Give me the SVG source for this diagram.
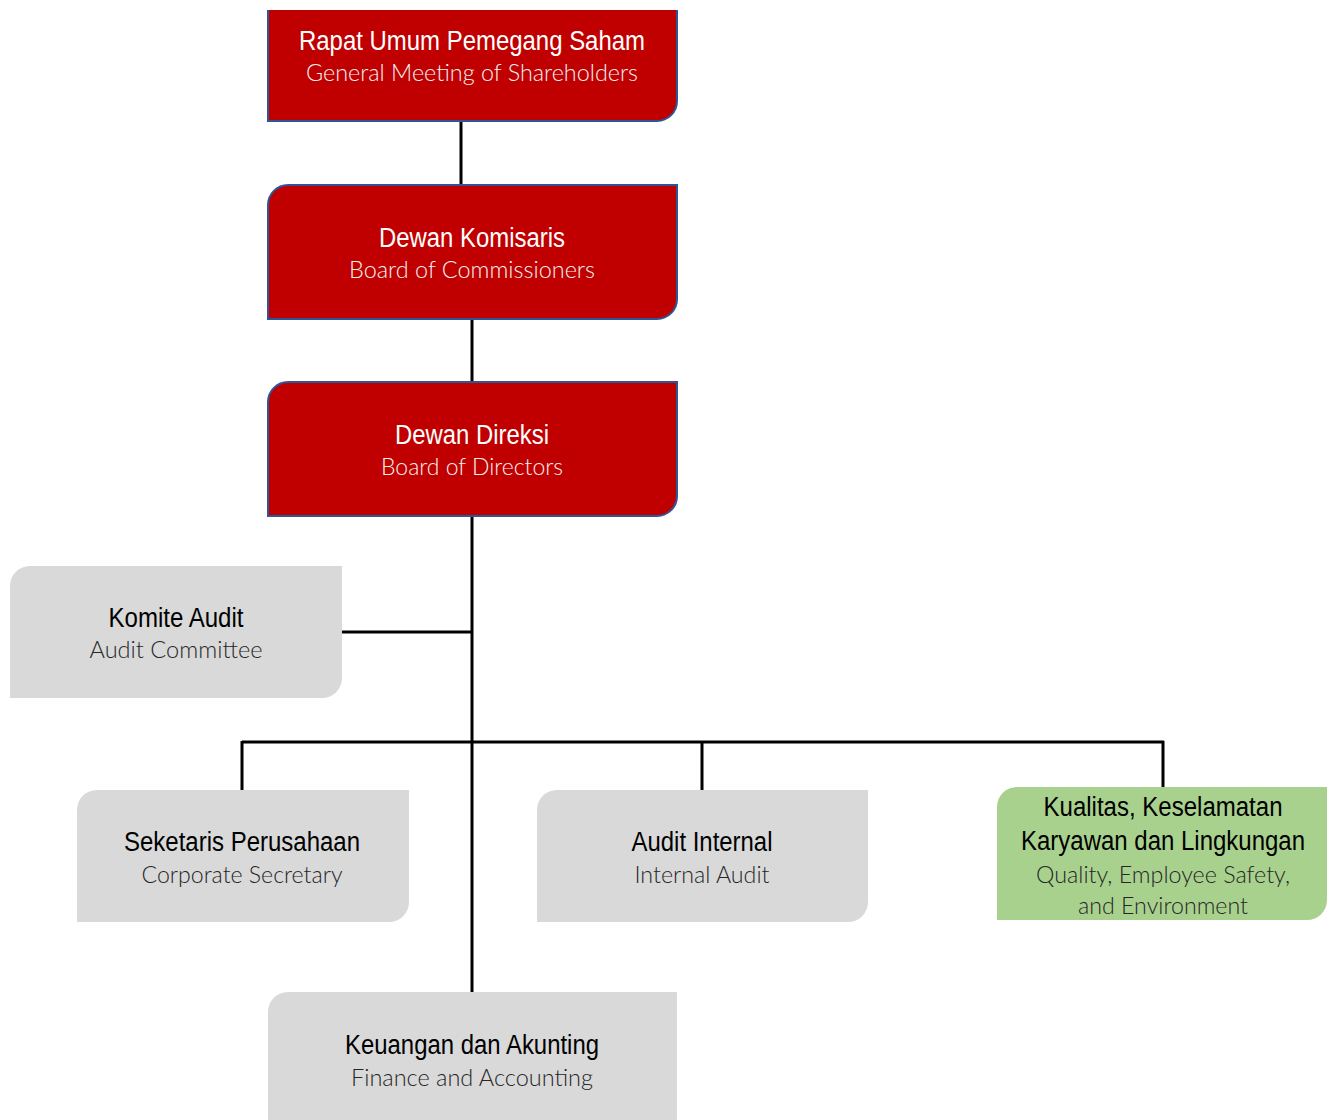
<svg xmlns="http://www.w3.org/2000/svg" width="1327" height="1120" viewBox="0 0 1327 1120">
<defs>
<style>
.red{fill:#C00000;stroke:#2F5597;stroke-width:2}
.gray{fill:#D9D9D9}
.green{fill:#A9D18E}
.t1{font-family:"Liberation Sans Narrow","Liberation Sans",Arial,sans-serif;font-size:27px;text-anchor:middle}
.t2{font-family:"Lato","Open Sans",sans-serif;font-weight:300;font-size:24px;text-anchor:middle}
.w1{fill:#FFFFFF}
.w2{fill:#F2F2F2}
.b1{fill:#000000}
.b2{fill:#262626}
.conn{stroke:#000;stroke-width:3;fill:none}
</style>
<clipPath id="topclip"><rect x="0" y="10" width="1327" height="1110"/></clipPath>
</defs>
<g id="connectors">
<line class="conn" x1="461" y1="121" x2="461" y2="185"/>
<line class="conn" x1="472" y1="319" x2="472" y2="382"/>
<line class="conn" x1="472" y1="516" x2="472" y2="993"/>
<line class="conn" x1="342" y1="632" x2="472" y2="632"/>
<line class="conn" x1="242" y1="742" x2="1164" y2="742"/>
<line class="conn" x1="242" y1="741" x2="242" y2="793"/>
<line class="conn" x1="702" y1="741" x2="702" y2="790"/>
<line class="conn" x1="1163" y1="741" x2="1163" y2="788"/>
</g>
<g id="rups">
<path class="red" clip-path="url(#topclip)" d="M268,-20 H677 V101 A20,20 0 0 1 657,121 H268 Z"/>
<text class="t1 w1" x="472" y="50" textLength="346" lengthAdjust="spacingAndGlyphs">Rapat Umum Pemegang Saham</text>
<text class="t2 w2" x="472" y="81" textLength="332" lengthAdjust="spacingAndGlyphs">General Meeting of Shareholders</text>
</g>
<g id="komisaris">
<path class="red" d="M288,185 H677 V299 A20,20 0 0 1 657,319 H268 V205 A20,20 0 0 1 288,185 Z"/>
<text class="t1 w1" x="472" y="247" textLength="186" lengthAdjust="spacingAndGlyphs">Dewan Komisaris</text>
<text class="t2 w2" x="472" y="278" textLength="246" lengthAdjust="spacingAndGlyphs">Board of Commissioners</text>
</g>
<g id="direksi">
<path class="red" d="M288,382 H677 V496 A20,20 0 0 1 657,516 H268 V402 A20,20 0 0 1 288,382 Z"/>
<text class="t1 w1" x="472" y="444" textLength="154" lengthAdjust="spacingAndGlyphs">Dewan Direksi</text>
<text class="t2 w2" x="472" y="475" textLength="182" lengthAdjust="spacingAndGlyphs">Board of Directors</text>
</g>
<g id="komite-audit">
<path class="gray" d="M30,566 H342 V678 A20,20 0 0 1 322,698 H10 V586 A20,20 0 0 1 30,566 Z"/>
<text class="t1 b1" x="176" y="627" textLength="135" lengthAdjust="spacingAndGlyphs">Komite Audit</text>
<text class="t2 b2" x="176" y="658" textLength="173" lengthAdjust="spacingAndGlyphs">Audit Committee</text>
</g>
<g id="sekretaris">
<path class="gray" d="M97,790 H409 V902 A20,20 0 0 1 389,922 H77 V810 A20,20 0 0 1 97,790 Z"/>
<text class="t1 b1" x="242" y="851" textLength="236" lengthAdjust="spacingAndGlyphs">Seketaris Perusahaan</text>
<text class="t2 b2" x="242" y="883" textLength="201" lengthAdjust="spacingAndGlyphs">Corporate Secretary</text>
</g>
<g id="audit-internal">
<path class="gray" d="M557,790 H868 V902 A20,20 0 0 1 848,922 H537 V810 A20,20 0 0 1 557,790 Z"/>
<text class="t1 b1" x="702" y="851" textLength="141" lengthAdjust="spacingAndGlyphs">Audit Internal</text>
<text class="t2 b2" x="702" y="883" textLength="135" lengthAdjust="spacingAndGlyphs">Internal Audit</text>
</g>
<g id="qhse">
<path class="green" d="M1017,787 H1327 V900 A20,20 0 0 1 1307,920 H997 V807 A20,20 0 0 1 1017,787 Z"/>
<text class="t1 b1" x="1163" y="816" textLength="239" lengthAdjust="spacingAndGlyphs">Kualitas, Keselamatan</text>
<text class="t1 b1" x="1163" y="850" textLength="284" lengthAdjust="spacingAndGlyphs">Karyawan dan Lingkungan</text>
<text class="t2 b2" x="1163" y="883" textLength="254" lengthAdjust="spacingAndGlyphs">Quality, Employee Safety,</text>
<text class="t2 b2" x="1163" y="914" textLength="170" lengthAdjust="spacingAndGlyphs">and Environment</text>
</g>
<g id="keuangan">
<path class="gray" d="M288,992 H677 V1130 A20,20 0 0 1 657,1150 H268 V1012 A20,20 0 0 1 288,992 Z"/>
<text class="t1 b1" x="472" y="1054" textLength="254" lengthAdjust="spacingAndGlyphs">Keuangan dan Akunting</text>
<text class="t2 b2" x="472" y="1086" textLength="242" lengthAdjust="spacingAndGlyphs">Finance and Accounting</text>
</g>
</svg>
